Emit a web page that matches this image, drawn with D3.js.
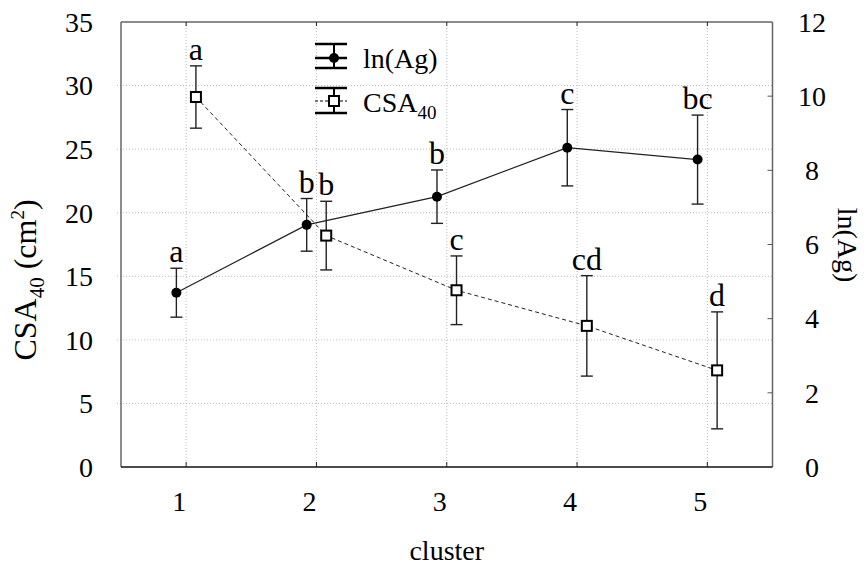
<!DOCTYPE html>
<html><head><meta charset="utf-8">
<script src="https://cdn.jsdelivr.net/npm/d3@7"></script>
<style>body{margin:0;background:#fff} svg, svg text{font-family:'Liberation Serif','DejaVu Serif',serif}</style>
</head><body><svg id="c" width="866" height="569" font-family="Liberation Serif"></svg>
<script>
const clusters=[1,2,3,4,5];
const csaMean=[29.1,18.2,13.9,11.1,7.6];
const csaErr=[2.45,2.7,2.7,3.95,4.6];
const csaLetters=["a","b","c","cd","d"];
const lnMean=[4.70,6.53,7.29,8.61,8.29];
const lnErr=[0.66,0.71,0.72,1.03,1.2];
const lnLetters=["a","b","b","c","bc"];
const leftTicks=[0,5,10,15,20,25,30,35];
const rightTicks=[0,2,4,6,8,10,12];
const gridLeft=[5,10,15,20,25,30];

const svg=d3.select("#c");
const L=121,R=772.5,T=22,B=467;
const x=d3.scaleLinear().domain([0.5,5.5]).range([L,R]);
const yL=d3.scaleLinear().domain([0,35]).range([B,T]);
const yR=d3.scaleLinear().domain([0,12]).range([B,T]);
const off=0.075;
const FF="Liberation Serif";

// grid
svg.append("g").selectAll("line").data(gridLeft).join("line")
  .attr("x1",L-4).attr("x2",R).attr("y1",d=>yL(d)).attr("y2",d=>yL(d))
  .attr("stroke","#bbb").attr("stroke-width",1).attr("stroke-dasharray","1,2");
svg.append("g").selectAll("line").data(clusters).join("line")
  .attr("x1",d=>x(d)).attr("x2",d=>x(d)).attr("y1",T).attr("y2",B)
  .attr("stroke","#bbb").attr("stroke-width",1).attr("stroke-dasharray","1,2");

// frame
svg.append("line").attr("x1",L).attr("x2",R).attr("y1",T).attr("y2",T).attr("stroke","#666").attr("stroke-width",1.5);
svg.append("line").attr("x1",L).attr("x2",L).attr("y1",T).attr("y2",B).attr("stroke","#666").attr("stroke-width",1.5);
svg.append("line").attr("x1",R).attr("x2",R).attr("y1",T).attr("y2",B).attr("stroke","#666").attr("stroke-width",1.5);
svg.append("line").attr("x1",L).attr("x2",R).attr("y1",B).attr("y2",B).attr("stroke","#111").attr("stroke-width",1.5);

// inner ticks
svg.append("g").selectAll("line").data(clusters).join("line")
  .attr("x1",d=>x(d)).attr("x2",d=>x(d)).attr("y1",B).attr("y2",B-5).attr("stroke","#222");
svg.append("g").selectAll("line").data(clusters).join("line")
  .attr("x1",d=>x(d)).attr("x2",d=>x(d)).attr("y1",T).attr("y2",T+4).attr("stroke","#222");
svg.append("g").selectAll("line").data(rightTicks.slice(1,-1)).join("line")
  .attr("x1",R).attr("x2",R-5).attr("y1",d=>yR(d)).attr("y2",d=>yR(d)).attr("stroke","#555");

// tick labels
const fs=28;
svg.append("g").attr("font-family",FF).selectAll("text").data(leftTicks).join("text")
  .attr("x",93).attr("y",d=>yL(d)).attr("dy","0.35em").attr("text-anchor","end")
  .attr("font-size",fs).text(d=>d);
svg.append("g").attr("font-family",FF).selectAll("text").data(rightTicks).join("text")
  .attr("x",812).attr("y",d=>yR(d)).attr("dy","0.35em").attr("text-anchor","middle")
  .attr("font-size",fs).text(d=>d);
svg.append("g").attr("font-family",FF).selectAll("text").data(clusters).join("text")
  .attr("x",d=>x(d)-7).attr("y",511).attr("text-anchor","middle")
  .attr("font-size",fs).text(d=>d);

// axis titles
svg.append("text").attr("font-family",FF).attr("x",(L+R)/2).attr("y",560).attr("text-anchor","middle").attr("font-size",fs).text("cluster");
const lt=svg.append("text").attr("font-family",FF).attr("transform","translate(36,280) rotate(-90)").attr("text-anchor","middle").attr("font-size",32);
lt.append("tspan").text("CSA");
lt.append("tspan").attr("font-size",21).attr("dy",8).text("40");
lt.append("tspan").attr("dy",-8).text(" (cm");
lt.append("tspan").attr("font-size",19).attr("dy",-12).text("2");
lt.append("tspan").attr("dy",12).text(")");
svg.append("text").attr("font-family",FF).attr("transform","translate(838,245) rotate(90)").attr("text-anchor","middle").attr("font-size",fs).text("ln(Ag)");

// series
const lnPts=clusters.map((c,i)=>({x:x(c-off),y:yR(lnMean[i]),t:yR(lnMean[i]+lnErr[i]),b:yR(lnMean[i]-lnErr[i]),l:lnLetters[i]}));
const csaPts=clusters.map((c,i)=>({x:x(c+off),y:yL(csaMean[i]),t:yL(csaMean[i]+csaErr[i]),b:yL(csaMean[i]-csaErr[i]),l:csaLetters[i]}));

svg.append("path").datum(lnPts).attr("d",d3.line().x(d=>d.x).y(d=>d.y))
  .attr("fill","none").attr("stroke","#222").attr("stroke-width",1.2);
svg.append("path").datum(csaPts).attr("d",d3.line().x(d=>d.x).y(d=>d.y))
  .attr("fill","none").attr("stroke","#222").attr("stroke-width",1).attr("stroke-dasharray","4,3");

function errbars(pts){
  const g=svg.append("g").attr("stroke","#222").attr("stroke-width",1.4);
  g.selectAll(".v").data(pts).join("line").attr("x1",d=>d.x).attr("x2",d=>d.x).attr("y1",d=>d.t).attr("y2",d=>d.b);
  g.selectAll(".t").data(pts).join("line").attr("x1",d=>d.x-6).attr("x2",d=>d.x+6).attr("y1",d=>d.t).attr("y2",d=>d.t);
  g.selectAll(".b").data(pts).join("line").attr("x1",d=>d.x-6).attr("x2",d=>d.x+6).attr("y1",d=>d.b).attr("y2",d=>d.b);
  svg.append("g").attr("font-family",FF).selectAll("text").data(pts).join("text")
    .attr("x",d=>d.x).attr("y",d=>d.t-6).attr("text-anchor","middle").attr("font-size",32).text(d=>d.l);
}
errbars(lnPts);
errbars(csaPts);
svg.append("g").selectAll("circle").data(lnPts).join("circle")
  .attr("cx",d=>d.x).attr("cy",d=>d.y).attr("r",5).attr("fill","#000");
svg.append("g").selectAll("rect").data(csaPts).join("rect")
  .attr("x",d=>d.x-5).attr("y",d=>d.y-5).attr("width",10).attr("height",10)
  .attr("fill","#fff").attr("stroke","#000").attr("stroke-width",2);

// legend
const lg=svg.append("g");
const lx1=315,lx2=347,lcx=334;
[[44,58,68],[88,101,113]].forEach((r,i)=>{
  lg.append("line").attr("x1",lx1).attr("x2",lx2).attr("y1",r[0]).attr("y2",r[0]).attr("stroke","#000").attr("stroke-width",2.5);
  lg.append("line").attr("x1",lx1).attr("x2",lx2).attr("y1",r[2]).attr("y2",r[2]).attr("stroke","#000").attr("stroke-width",2.5);
  lg.append("line").attr("x1",lcx).attr("x2",lcx).attr("y1",r[0]).attr("y2",r[2]).attr("stroke","#000").attr("stroke-width",2);
  lg.append("line").attr("x1",lx1).attr("x2",lx2).attr("y1",r[1]).attr("y2",r[1]).attr("stroke","#000")
    .attr("stroke-width",i==0?2.5:1).attr("stroke-dasharray",i==0?null:"3,2");
});
lg.append("circle").attr("cx",lcx).attr("cy",58).attr("r",5).attr("fill","#000");
lg.append("rect").attr("x",lcx-5).attr("y",96).attr("width",10).attr("height",10).attr("fill","#fff").attr("stroke","#000").attr("stroke-width",2);
lg.append("text").attr("font-family",FF).attr("x",363).attr("y",68).attr("font-size",fs).text("ln(Ag)");
const l2=lg.append("text").attr("font-family",FF).attr("x",363).attr("y",112).attr("font-size",fs);
l2.append("tspan").text("CSA");
l2.append("tspan").attr("font-size",19).attr("dy",7).text("40");
</script></body></html>
